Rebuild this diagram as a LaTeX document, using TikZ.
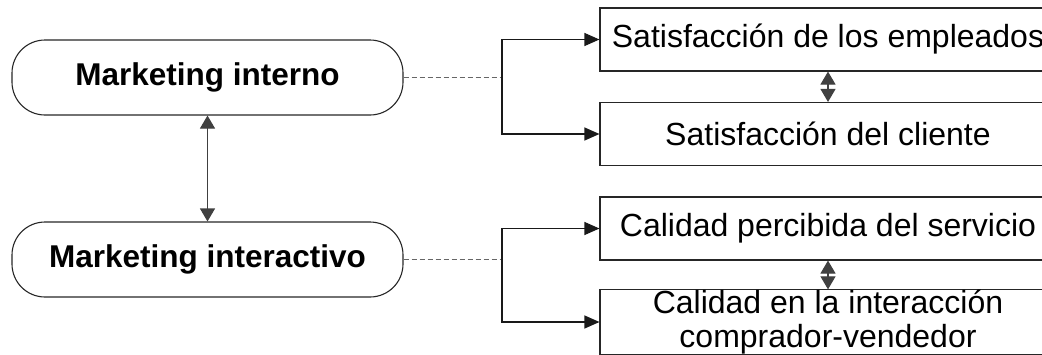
\documentclass[tikz,border=0pt]{standalone}
\usepackage{fontspec}
\setmainfont{Liberation Sans}
\usetikzlibrary{arrows.meta}

\tikzset{
  ovalbox/.style={draw=black!85, line width=1.1pt, rectangle, rounded corners=33pt,
    minimum width=391pt, minimum height=75pt, inner sep=0pt,
    font=\fontsize{31.5}{36}\selectfont\bfseries},
  itembox/.style={draw=black!85, line width=1.1pt, rectangle,
    minimum width=456pt, minimum height=63pt, inner sep=0pt, align=center,
    font=\fontsize{32}{36}\selectfont},
  link/.style={draw=black!90, line width=1.1pt, -{Triangle[length=15pt,width=13pt]}},
  twoway/.style={draw=black!75, line width=1.1pt,
    {Triangle[length=13pt,width=15pt]}-{Triangle[length=13pt,width=15pt]}},
  dashlink/.style={draw=black!60, line width=1pt, dash pattern=on 5pt off 3pt},
}

\begin{document}
\begin{tikzpicture}[x=1pt, y=-1pt]
  \useasboundingbox (0,0) rectangle (1042,354);
  \clip (0,0) rectangle (1042,354);

  % left column
  \node[ovalbox] (mi)  at (207.5,77.5)  {Marketing interno};
  \node[ovalbox] (mia) at (207.5,259.5) {Marketing interactivo};

  % right column
  \node[itembox] (se) at (828,39.5)  {Satisfacción de los empleados};
  \node[itembox] (sc) at (828,134)   {Satisfacción del cliente};
  \node[itembox] (cp) at (828,228.5) {Calidad percibida del servicio};
  \node[itembox] (ci) at (828,322)   {Calidad en la interacción\\[-2pt]comprador-vendedor};

  % bracket junctions
  \coordinate (j1) at (502,77.5);
  \coordinate (j2) at (502,259.5);

  % dashed ties from the ovals to the brackets
  \draw[dashlink] (mi.east) -- (j1);
  \draw[dashlink] (mia.east) -- (j2);

  % bracket arrows
  \draw[link] (j1) |- (se.west);
  \draw[link] (j1) |- (sc.west);
  \draw[link] (j2) |- (cp.west);
  \draw[link] (j2) |- (ci.west);

  % two-way links
  \draw[twoway] (mi.south) -- (mia.north);
  \draw[twoway] (se.south) -- (sc.north);
  \draw[twoway] (cp.south) -- (ci.north);
\end{tikzpicture}
\end{document}
